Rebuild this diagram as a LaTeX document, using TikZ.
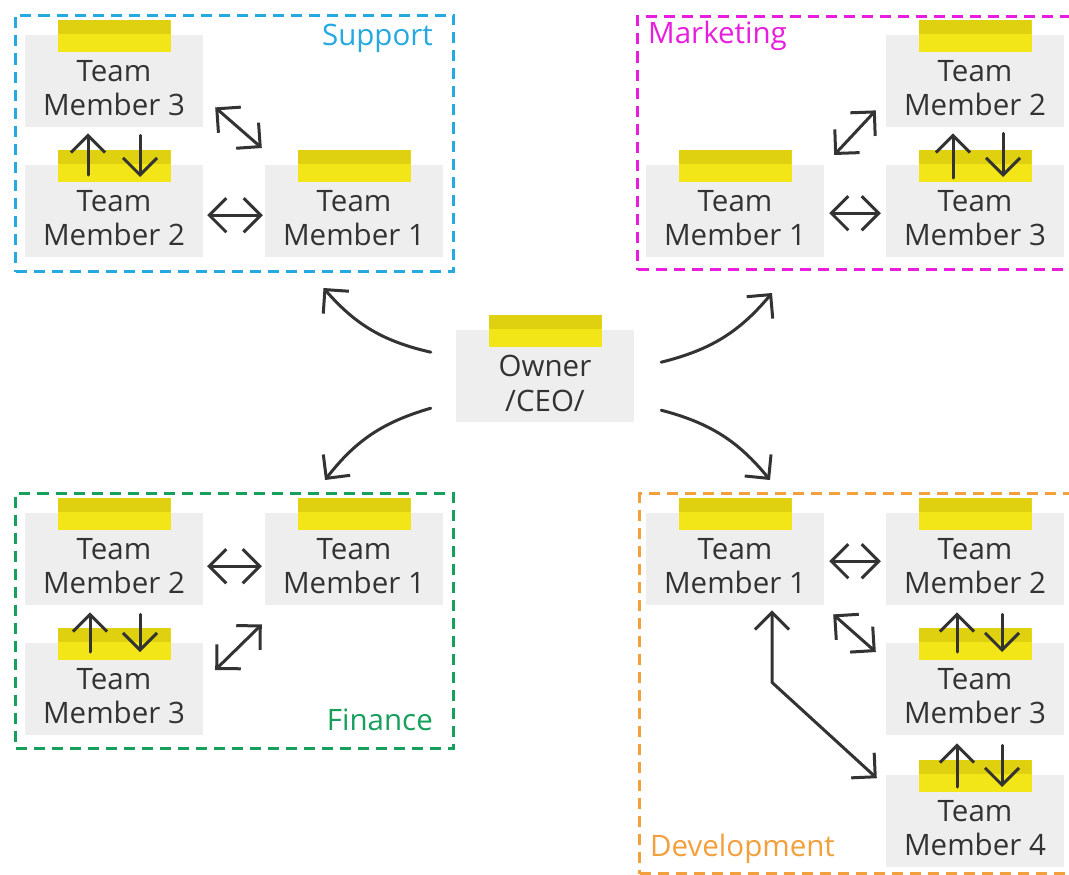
\documentclass[tikz,border=0pt]{standalone}
\usepackage{fontspec}
\setmainfont{Open Sans}
\usetikzlibrary{arrows.meta,calc}
\definecolor{notegray}{RGB}{238,238,238}
\definecolor{tapeY}{RGB}{243,230,24}
\definecolor{tapeD}{RGB}{223,208,16}
\definecolor{ink}{RGB}{51,51,51}
\definecolor{cSup}{RGB}{38,168,224}
\definecolor{cMkt}{RGB}{232,30,222}
\definecolor{cFin}{RGB}{22,160,92}
\definecolor{cDev}{RGB}{243,160,60}
\tikzset{
 notebox/.style={fill=notegray, minimum width=178pt, minimum height=92pt, inner sep=0pt, draw=none},
 tapebox/.style={fill=tapeY, minimum width=113pt, minimum height=32pt, inner sep=0pt,
   path picture={\fill[tapeD] (path picture bounding box.north west) rectangle ([yshift=-14pt]path picture bounding box.north east);}},
 notetext/.style={align=center, text=ink, font=\fontsize{29.5}{34.5}\selectfont, inner sep=0pt},
 group/.style={draw=#1, dash pattern=on 11pt off 7pt, line width=3pt, inner sep=0pt},
 grouplabel/.style={text=#1, font=\fontsize{29.5}{32}\selectfont, inner sep=0pt},
 arr/.style={draw=ink, line width=3pt, line cap=round, line join=round,
   {Straight Barb[length=17pt,width=34pt]}-{Straight Barb[length=17pt,width=34pt]}},
 arrone/.style={draw=ink, line width=3pt, line cap=round, line join=round,
   -{Straight Barb[length=17pt,width=34pt]}},
}
\newcommand\stickynote[4]{%
 \node[notebox, anchor=north] (#1) at (#2,#3) {};
 \node[tapebox] (#1tape) at ([yshift=-1pt]#1.north) {};
 \node[notetext] (#1text) at ([yshift=-7pt]#1.center) {#4};
}
\begin{document}
\begin{tikzpicture}[x=1pt,y=-1pt]
\useasboundingbox (0,0) rectangle (1069,875);
\clip (0,0) rectangle (1069,875);
\fill[white] (0,0) rectangle (1069,875);

% group frames
\node[group=cSup, minimum width=438pt, minimum height=256pt, anchor=north west] (sup) at (14,14) {};
\node[group=cMkt, minimum width=450pt, minimum height=253pt, anchor=north west] (mkt) at (636,15) {};
\node[group=cFin, minimum width=438pt, minimum height=255pt, anchor=north west] (fin) at (14,492) {};
\node[group=cDev, minimum width=450pt, minimum height=380pt, anchor=north west] (dev) at (638,492) {};

\node[grouplabel=cSup, anchor=east] (supl) at (433,38) {Support};
\node[grouplabel=cMkt, anchor=west] (mktl) at (648,36) {Marketing};
\node[grouplabel=cFin, anchor=east] (finl) at (433,720) {Finance};
\node[grouplabel=cDev, anchor=west] (devl) at (650,849) {Development};

% notes
\stickynote{s3}{114}{35}{Team\\Member 3}
\stickynote{s2}{114}{165}{Team\\Member 2}
\stickynote{s1}{354}{165}{Team\\Member 1}

\stickynote{m2}{975}{35}{Team\\Member 2}
\stickynote{m1}{735}{165}{Team\\Member 1}
\stickynote{m3}{975}{165}{Team\\Member 3}

\stickynote{own}{545}{330}{Owner\\/CEO/}

\stickynote{f2}{114}{513}{Team\\Member 2}
\stickynote{f1}{354}{513}{Team\\Member 1}
\stickynote{f3}{114}{643}{Team\\Member 3}

\stickynote{d1}{735}{513}{Team\\Member 1}
\stickynote{d2}{975}{513}{Team\\Member 2}
\stickynote{d3}{975}{643}{Team\\Member 3}
\stickynote{d4}{975}{775}{Team\\Member 4}

% support arrows
\draw[arr] ([xshift=12pt,yshift=20pt]s3.south east) -- ([xshift=-3pt,yshift=17pt]s1.north west);
\draw[arr] ([xshift=4pt,yshift=-4pt]s2.east) -- ([xshift=-2pt,yshift=-4pt]s1.west);
\draw[arrone] ([xshift=-26pt,yshift=-10pt]s2.north) -- ([xshift=-26pt,yshift=-6pt]s3.south);
\draw[arrone] ([xshift=26pt,yshift=-8pt]s3.south) -- ([xshift=26pt,yshift=-12pt]s2.north);

% marketing arrows
\draw[arr] ([xshift=10pt,yshift=10pt]m1.north east) -- ([xshift=-10pt,yshift=17pt]m2.south west);
\draw[arr] ([xshift=5pt,yshift=-2pt]m1.east) -- ([xshift=-5pt,yshift=-2pt]m3.west);
\draw[arrone] ([xshift=-22pt,yshift=-13pt]m3.north) -- ([xshift=-22pt,yshift=-6pt]m2.south);
\draw[arrone] ([xshift=28pt,yshift=-6pt]m2.south) -- ([xshift=28pt,yshift=-12pt]m3.north);

% owner arrows
\draw[arrone] ([xshift=-25pt,yshift=24pt]own.west) to[bend left=18] ([xshift=89pt,yshift=-15pt]sup.south);
\draw[arrone] ([xshift=27pt,yshift=14pt]own.east) to[bend right=18] ([xshift=136pt,yshift=-22pt]mkt.south west);
\draw[arrone] ([xshift=-25pt,yshift=-32pt]own.west) to[bend right=18] ([xshift=311pt,yshift=12pt]fin.north west);
\draw[arrone] ([xshift=27pt,yshift=-34pt]own.east) to[bend left=18] ([xshift=132pt,yshift=12pt]dev.north west);

% finance arrows
\draw[arr] ([xshift=4pt,yshift=-7pt]f2.east) -- ([xshift=-3pt,yshift=-7pt]f1.west);
\draw[arrone] ([xshift=-24pt,yshift=-9pt]f3.north) -- ([xshift=-24pt,yshift=-7pt]f2.south);
\draw[arrone] ([xshift=26pt,yshift=-9pt]f2.south) -- ([xshift=26pt,yshift=-9pt]f3.north);
\draw[arr] ([xshift=12pt,yshift=-27pt]f3.north east) -- ([xshift=-3pt,yshift=-19pt]f1.south west);

% development arrows
\draw[arr] ([xshift=5pt,yshift=-2pt]d1.east) -- ([xshift=-5pt,yshift=-2pt]d2.west);
\draw[arr] ([xshift=9pt,yshift=-9pt]d1.south east) -- ([xshift=-10pt,yshift=-9pt]d3.north west);
\draw[arrone] ([xshift=-18pt,yshift=-9pt]d3.north) -- ([xshift=-18pt,yshift=-7pt]d2.south);
\draw[arrone] ([xshift=27pt,yshift=-9pt]d2.south) -- ([xshift=27pt,yshift=-9pt]d3.north);
\draw[arrone] ([xshift=-18pt,yshift=-12pt]d4.north) -- ([xshift=-18pt,yshift=-8pt]d3.south);
\draw[arrone] ([xshift=27pt,yshift=-10pt]d3.south) -- ([xshift=27pt,yshift=-12pt]d4.north);
\draw[arr] ([xshift=37pt,yshift=-5pt]d1.south) -- ++(0,72) -- ([xshift=-9pt,yshift=43pt]d4.west);
\end{tikzpicture}
\end{document}
